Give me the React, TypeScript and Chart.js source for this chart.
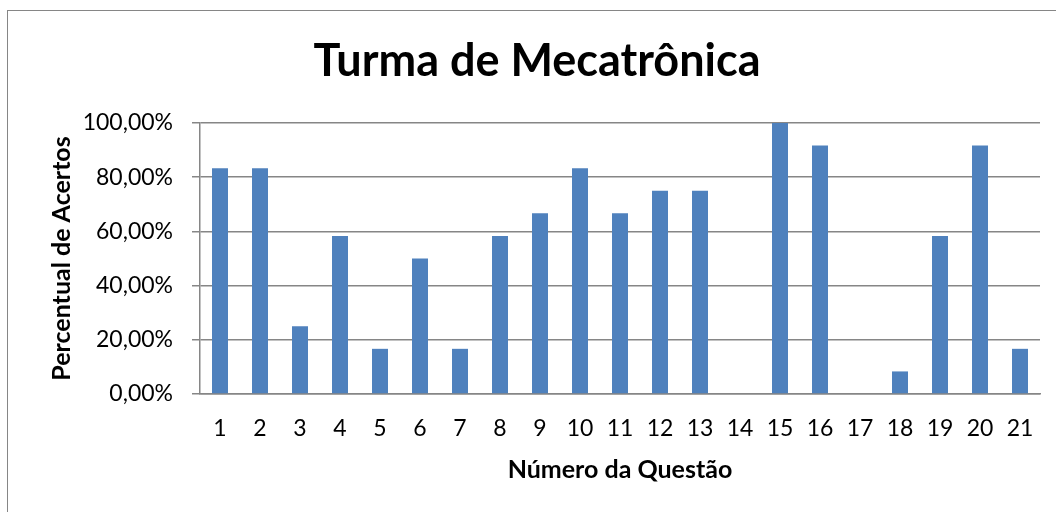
import React, { useEffect, useRef } from "react";
import { Chart, registerables } from "chart.js";

Chart.register(...registerables);

const questions: string[] = ["1","2","3","4","5","6","7","8","9","10","11","12","13","14","15","16","17","18","19","20","21"];
const percentCorrect: number[] = [83.33, 83.33, 25, 58.33, 16.67, 50, 16.67, 58.33, 66.67, 83.33, 66.67, 75, 75, 0, 100, 91.67, 0, 8.33, 58.33, 91.67, 16.67];
const yTickValues: number[] = [0, 20, 40, 60, 80, 100];
const yTickLabels: string[] = ["0,00%", "20,00%", "40,00%", "60,00%", "80,00%", "100,00%"];

const chartTitle = "Turma de Mecatrônica";
const xTitle = "Número da Questão";
const yTitle = "Percentual de Acertos";

const FONT = "Lato";

const titlePlugin = {
  id: "fixedTitle",
  afterDraw(chart: any) {
    const ctx = chart.ctx;
    ctx.save();
    ctx.font = `bold 45px ${FONT}`;
    ctx.fillStyle = "#000000";
    ctx.textAlign = "center";
    ctx.textBaseline = "middle";
    ctx.fillText(chartTitle, 537, 61);
    ctx.restore();
  },
};

export default function App() {
  const canvasRef = useRef<HTMLCanvasElement | null>(null);

  useEffect(() => {
    if (!canvasRef.current) return;
    const chart = new Chart(canvasRef.current, {
      type: "bar",
      data: {
        labels: questions,
        datasets: [
          {
            data: percentCorrect,
            backgroundColor: "#4F81BD",
            borderWidth: 0,
            categoryPercentage: 1,
            barPercentage: 0.4,
          },
        ],
      },
      options: {
        responsive: false,
        animation: false,
        devicePixelRatio: 1,
        layout: { padding: { top: 123, left: 30, right: 16, bottom: 0 } },
        plugins: {
          legend: { display: false },
          title: { display: false },
          tooltip: { enabled: false },
        },
        scales: {
          x: {
            grid: { display: false },
            border: { display: true, color: "#868686", width: 1.5 },
            ticks: {
              color: "#000000",
              font: { family: FONT, size: 23 },
              padding: 13,
              maxRotation: 0,
              autoSkip: false,
            },
            title: {
              display: true,
              text: xTitle,
              color: "#000000",
              font: { family: FONT, size: 25, weight: "bold" },
              padding: { top: 0, bottom: 27 },
            },
            afterFit(scale: any) {
              scale.height = 118;
            },
          },
          y: {
            min: 0,
            max: 100,
            afterBuildTicks(scale: any) {
              scale.ticks = yTickValues.map((v) => ({ value: v }));
            },
            grid: {
              color: "#868686",
              lineWidth: 1.5,
              drawTicks: true,
              tickLength: 8,
            },
            border: { display: true, color: "#868686", width: 1.5 },
            ticks: {
              color: "#000000",
              font: { family: FONT, size: 23 },
              padding: 19,
              callback: (value: any) => {
                const i = yTickValues.indexOf(Number(value));
                return i >= 0 ? yTickLabels[i] : "";
              },
            },
            title: {
              display: true,
              text: yTitle,
              color: "#000000",
              font: { family: FONT, size: 25, weight: "bold" },
              padding: { top: 17, bottom: 0 },
            },
            afterFit(scale: any) {
              scale.width = 170;
            },
          },
        },
      },
      plugins: [titlePlugin],
    });
    return () => chart.destroy();
  }, []);

  return (
    <div style={{ position: "fixed", left: 0, top: 0, width: 1056, height: 512, background: "#ffffff", overflow: "hidden" }}>
      <div
        style={{
          position: "absolute",
          left: 7,
          top: 10,
          width: 1200,
          height: 700,
          borderLeft: "1px solid #868686",
          borderTop: "1px solid #868686",
        }}
      />
      <canvas ref={canvasRef} width={1056} height={512} style={{ position: "absolute", left: 0, top: 0, width: 1056, height: 512 }} />
    </div>
  );
}
